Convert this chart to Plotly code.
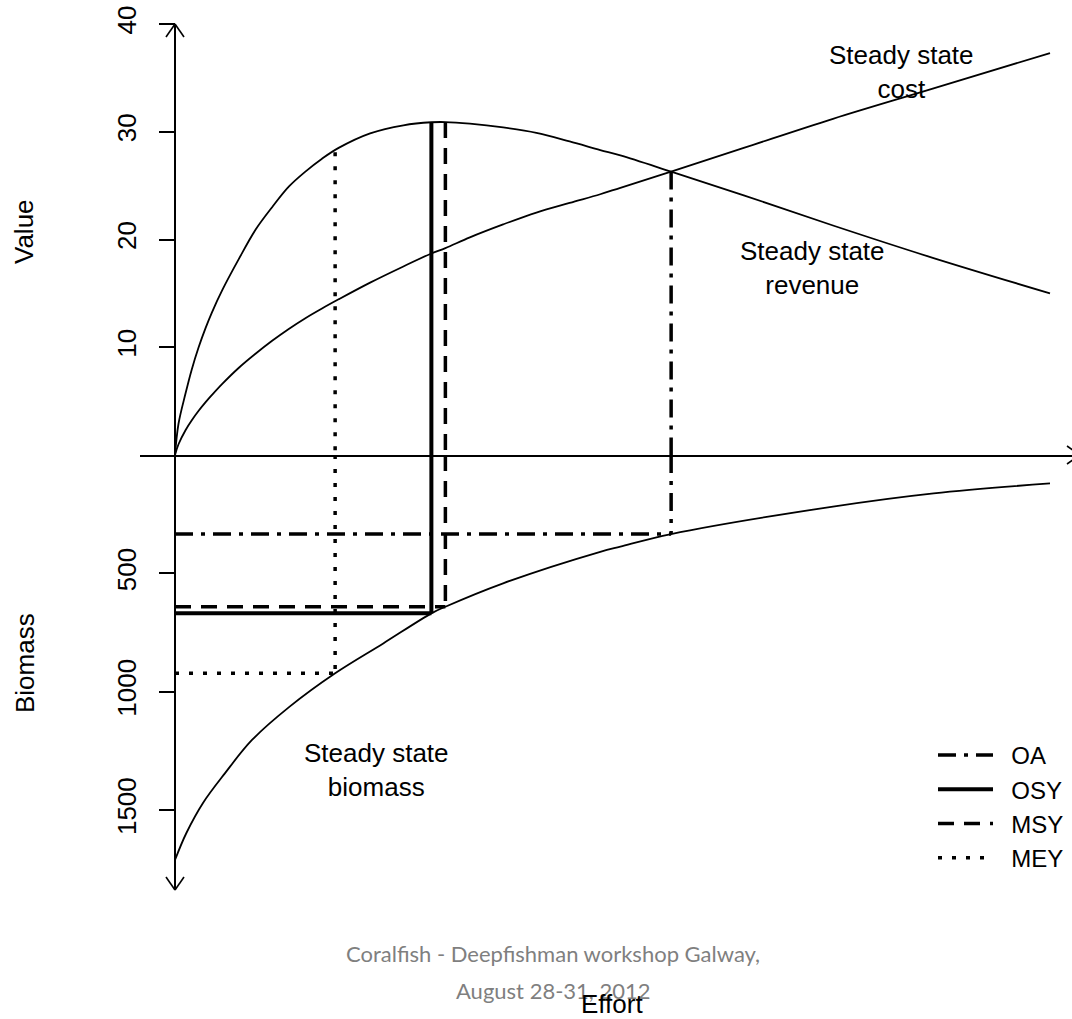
import plotly.graph_objects as go

# ---------------- data ----------------
effort_vc = [0, 0.4, 1.2, 1.9, 2.7, 3.5, 4.2, 5.4, 7.3, 9.2, 11.1, 13.0, 14.9, 16.8,
             18.7, 22.3, 26.1, 29.3, 30.9, 33.7, 37.5, 41.3, 45.1, 48.6, 50.9, 56.7,
             65.0, 75.2, 86.6, 100]
revenue = [0, 2.9, 5.7, 7.9, 10.0, 11.8, 13.2, 15.3, 18.2, 20.9, 23.0, 24.9, 26.3, 27.5,
           28.5, 29.85, 30.6, 30.88, 30.9, 30.75, 30.4, 29.9, 29.1, 28.3, 27.8, 26.3,
           24.1, 21.3, 18.3, 15.0]
cost = [0, 1.0, 2.3, 3.2, 4.1, 4.9, 5.55, 6.6, 8.1, 9.4, 10.6, 11.7, 12.7, 13.6,
        14.45, 16.0, 17.5, 18.7, 19.2, 20.2, 21.4, 22.5, 23.4, 24.2, 24.8, 26.3,
        28.5, 31.2, 34.0, 37.3]

effort_b = [0, 1.3, 3.2, 5.7, 8.8, 13.1, 18.3, 23.8, 29.3, 30.9, 37.5, 48.6, 50.9,
            56.7, 75.2, 86.7, 100]
biomass = [1711, 1597, 1470, 1345, 1204, 1063, 922, 796, 669, 641, 542, 409, 387,
           334, 218, 162, 120]

ref_names = ["OA", "OSY", "MSY", "MEY"]
ref_effort = [56.7, 29.3, 30.9, 18.3]
ref_value = [26.3, 30.88, 30.9, 28.1]
ref_biomass = [334, 669, 641, 922]
ref_dash = ["18px,8px,4px,8px", "solid", "16px,10px", "4px,10px"]
ref_width = [3.5, 4.0, 3.5, 3.5]

value_ticks = [10, 20, 30, 40]
biomass_ticks = [500, 1000, 1500]

W, H = 1072, 1019
FONT = "Liberation Sans, Arial, sans-serif"
NB = "\u00a0"


def fx(p):
    return p / W


def fy(p):
    return 1 - p / H


fig = go.Figure()

curve_line = dict(color="black", width=1.8)
fig.add_trace(go.Scatter(x=effort_vc, y=revenue, mode="lines", line=curve_line,
                         line_shape="spline", showlegend=False, xaxis="x", yaxis="y"))
fig.add_trace(go.Scatter(x=effort_vc, y=cost, mode="lines", line=curve_line,
                         line_shape="spline", showlegend=False, xaxis="x", yaxis="y"))
fig.add_trace(go.Scatter(x=effort_b, y=biomass, mode="lines", line=curve_line,
                         line_shape="spline", showlegend=False, xaxis="x", yaxis="y2"))

for name, e, v, b, d, w in zip(ref_names, ref_effort, ref_value, ref_biomass,
                               ref_dash, ref_width):
    ln = dict(color="black", width=w, dash=d)
    # upper panel vertical
    fig.add_trace(go.Scatter(x=[e, e], y=[v, 0], mode="lines", line=ln,
                             name=NB * 2 + name, legendgroup=name, showlegend=True,
                             xaxis="x", yaxis="y"))
    # lower panel vertical + horizontal
    fig.add_trace(go.Scatter(x=[e, e, None, 0, e], y=[0, b, None, b, b], mode="lines",
                             line=ln, name=name, legendgroup=name, showlegend=False,
                             xaxis="x", yaxis="y2"))

# axis geometry (pixels -> paper)
top_dom = [fy(455), fy(24)]
bot_dom = [fy(890), fy(455)]
x0_px, xr_px = 175, 8.75
x_left = (140 - x0_px) / xr_px
x_right = (W - x0_px) / xr_px
b_scale = 0.2367
b_max = (890 - 455) / b_scale

tickfont = dict(family=FONT, size=26, color="black")

fig.update_layout(
    width=W, height=H,
    margin=dict(l=0, r=0, t=0, b=0, autoexpand=False),
    paper_bgcolor="white", plot_bgcolor="rgba(0,0,0,0)",
    xaxis=dict(domain=[fx(140), 1], range=[x_left, x_right], anchor="y",
               automargin=False,
               showgrid=False, showticklabels=False, ticks="",
               showline=True, linecolor="black", linewidth=1.8,
               zeroline=True, zerolinecolor="black", zerolinewidth=1.8),
    yaxis=dict(domain=top_dom, range=[0, 40], anchor="free", position=fx(175),
               automargin=False,
               showgrid=False, zeroline=False, showline=False,
               tickmode="array", tickvals=value_ticks, ticks="outside",
               ticklen=16, tickwidth=1.8, tickcolor="black",
               tickangle=-90, tickfont=tickfont, ticklabelstandoff=13),
    yaxis2=dict(domain=bot_dom, range=[b_max, 0], anchor="free", position=fx(175),
                automargin=False,
                showgrid=False, zeroline=False, showline=False,
                tickmode="array", tickvals=biomass_ticks, ticks="outside",
                ticklen=16, tickwidth=1.8, tickcolor="black",
                tickangle=-90, tickfont=tickfont, ticklabelstandoff=13),
    legend=dict(x=fx(933), y=fy(733), xanchor="left", yanchor="top",
                bgcolor="rgba(0,0,0,0)", font=dict(family=FONT, size=24, color="black"),
                itemwidth=55, tracegroupgap=0),
    showlegend=True,
)

# arrowheads on the axes (open V like R's arrows)
arrow = dict(color="black", width=1.6)
shapes = [
    dict(type="line", xref="paper", yref="paper", x0=fx(166), y0=fy(37), x1=fx(175), y1=fy(24), line=arrow),
    dict(type="line", xref="paper", yref="paper", x0=fx(184), y0=fy(37), x1=fx(175), y1=fy(24), line=arrow),
    dict(type="line", xref="paper", yref="paper", x0=fx(166), y0=fy(877), x1=fx(175), y1=fy(890), line=arrow),
    dict(type="line", xref="paper", yref="paper", x0=fx(184), y0=fy(877), x1=fx(175), y1=fy(890), line=arrow),
    dict(type="line", xref="paper", yref="paper", x0=fx(1067), y0=fy(446), x1=fx(1080), y1=fy(455), line=arrow),
    dict(type="line", xref="paper", yref="paper", x0=fx(1067), y0=fy(464), x1=fx(1080), y1=fy(455), line=arrow),
]
fig.update_layout(shapes=shapes)

txt = dict(family=FONT, size=26, color="black")
foot = dict(family="Lato, Open Sans, sans-serif", size=22, color="#7f7f7f")
annotations = [
    dict(text="Steady state<br>cost", x=83.0, y=35.5, xref="x", yref="y",
         showarrow=False, font=txt),
    dict(text="Steady state<br>revenue", x=72.9, y=17.35, xref="x", yref="y",
         showarrow=False, font=txt),
    dict(text="Steady state<br>biomass", x=23.0, y=1331, xref="x", yref="y2",
         showarrow=False, font=txt),
    dict(text="Value", x=fx(24), y=fy(232), xref="paper", yref="paper",
         xanchor="center", yanchor="middle",
         showarrow=False, textangle=-90, font=txt),
    dict(text="Biomass", x=fx(25), y=fy(663), xref="paper", yref="paper",
         xanchor="center", yanchor="middle",
         showarrow=False, textangle=-90, font=txt),
    dict(text="Coralfish - Deepfishman workshop Galway,", x=fx(553), y=fy(953),
         xref="paper", yref="paper", xanchor="center", yanchor="middle",
         showarrow=False, font=foot),
    dict(text="August 28-31, 2012", x=fx(553), y=fy(990),
         xref="paper", yref="paper", xanchor="center", yanchor="middle",
         showarrow=False, font=foot),
    dict(text="Effort", x=fx(612), y=fy(1004), xref="paper", yref="paper",
         xanchor="center", yanchor="middle",
         showarrow=False, font=txt),
]
fig.update_layout(annotations=annotations)

fig.write_html("out.html")
